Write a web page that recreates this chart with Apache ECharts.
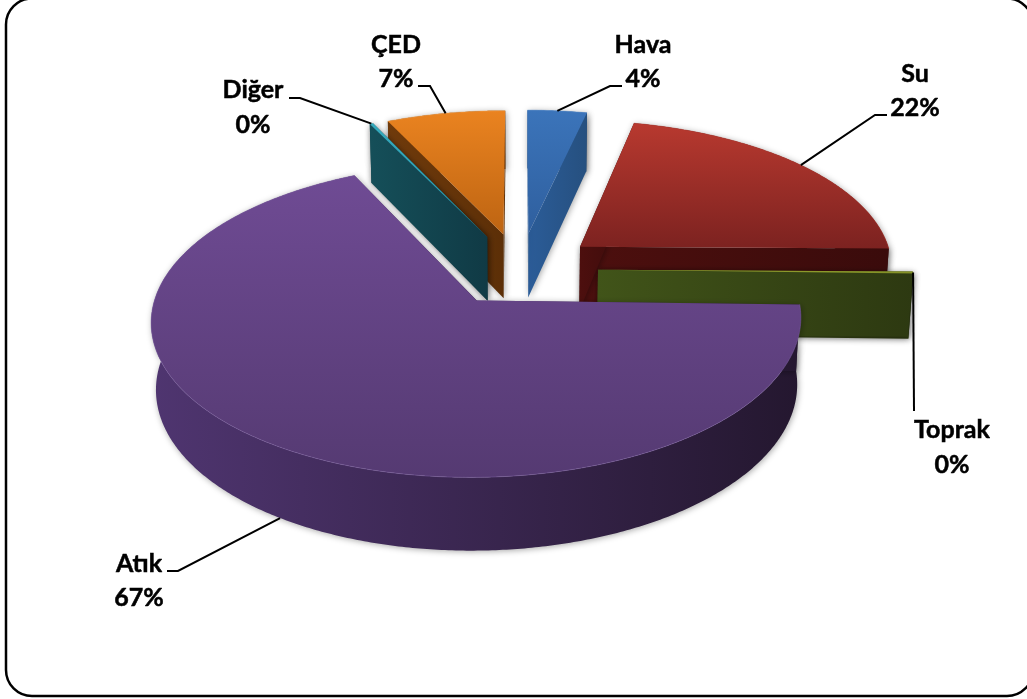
<!DOCTYPE html>
<html><head><meta charset="utf-8">
<style>html,body{margin:0;padding:0;background:#fff;overflow:hidden}#c{width:1027px;height:699px}</style>
<script src="https://cdn.jsdelivr.net/npm/echarts@6/dist/echarts.min.js"></script>
</head><body><div id="c"></div>
<script>
// Data (percent shares, clockwise from 12 o'clock)
const categories = ['Hava', 'Su', 'Toprak', 'Atık', 'Diğer', 'ÇED'];
const values = [3.5, 21.7, 0.2, 67.4, 0.2, 7.0];

// Colours: top face [upper, lower], wall [left, right]
const topColors = [['#3b74ba','#2f5f9e'],['#b8392f','#7c2220'],['#98a531','#7f8c24'],['#6f4b94','#553a72'],['#35aabd','#2a93a6'],['#ea8320','#bd6412']];
const wallColors = [['#4f3570','#24172f'],['#4d0f0e','#3a0b0b'],['#415419','#2d3911'],['#4f3570','#24172f'],['#154f59','#103a45'],['#6f3a0b','#5c2f07']];
wallColors[0] = ['#2b5c98','#26507f'];
const rimColors = ['#5f93d3','#b8392f','#b8c455','#7d60a3','#5fcbdc','#f5a95e'];

// Label layout: label centre and elbow of the leader line
const labelPos = { Hava:[643,62,622,86,610,86], Su:[915,91,887,115,875,115], Toprak:[952,447.5,914,411,914,411],
                   'Atık':[139,581,167,571,178,571], 'Diğer':[253,107.5,289,98,300,98], 'ÇED':[396,62,418,86,430,86] };

// 3D projection of the disc plane
const CX = 520, CY = 269, R = 314, EXPLODE = 78, G = 0.4677, P = 0.00039, DEPTH = 66, Q = 0.0127;
function project(X, Y, bottom) {
  const d = 1 + P * Y + (bottom ? Q : 0);
  return [CX + X / d, CY + (-G * Y + (bottom ? DEPTH : 0)) / d];
}
const total = values.reduce((a, b) => a + b, 0);
let acc = 0;
const slices = values.map((v, i) => {
  const a0 = acc / total * 2 * Math.PI; acc += v;
  const a1 = acc / total * 2 * Math.PI, mid = (a0 + a1) / 2;
  return { i, a0, a1, mid, ox: EXPLODE * Math.sin(mid), oy: EXPLODE * Math.cos(mid) };
});
function rim(s, a, bottom) { return project(s.ox + R * Math.sin(a), s.oy + R * Math.cos(a), bottom); }
function arc(s, bottom) {
  const n = Math.max(2, Math.ceil((s.a1 - s.a0) / 0.01)), pts = [];
  for (let k = 0; k <= n; k++) pts.push(rim(s, s.a0 + (s.a1 - s.a0) * k / n, bottom));
  return pts;
}
function grad(pts, stops, vertical) {
  const xs = pts.map(p => p[0]), ys = pts.map(p => p[1]);
  const c = (o, col) => ({ offset: o, color: col });
  return vertical
    ? { type:'linear', global:true, x:0, x2:0, y:Math.min(...ys), y2:Math.max(...ys), colorStops:[c(0,stops[0]),c(1,stops[1])] }
    : { type:'linear', global:true, y:0, y2:0, x:Math.min(...xs), x2:Math.max(...xs), colorStops:[c(0,stops[0]),c(1,stops[1])] };
}
const order = slices.slice().sort((a, b) => b.oy - a.oy).map(s => s.i);

function renderSlice(params, api) {
  const s = slices[api.value(0)], i = s.i, rank = order.indexOf(i) * 10;
  const apexT = project(s.ox, s.oy, false), apexB = project(s.ox, s.oy, true);
  const topArc = arc(s, false), botArc = arc(s, true);
  const shadow = { shadowColor:'rgba(0,0,0,0.35)', shadowBlur:6, shadowOffsetX:1, shadowOffsetY:1 };
  const wall = (pts, z, sh) => ({ type:'polygon', z2: rank + z, shape:{ points: pts },
    style: Object.assign({ fill: grad(pts, wallColors[i], false) }, sh ? shadow : {}) });
  const outer = topArc.concat(botArc.slice().reverse());
  const startW = [apexT, topArc[0], botArc[0], apexB];
  const endW = [apexT, topArc[topArc.length - 1], botArc[botArc.length - 1], apexB];
  const topPts = [apexT].concat(topArc);
  return { type:'group', children:[
    wall(outer, 0, true), wall(endW, 1, true), wall(startW, 2, true),
    { type:'polygon', z2: rank + 3, shape:{ points: topPts }, style:{ fill: grad(topPts, topColors[i], true) } },
    { type:'polyline', z2: rank + 4, shape:{ points: topArc },
      style:{ fill:'none', stroke: rimColors[i], lineWidth:1, opacity:0.5 } }
  ]};
}
function renderLabel(params, api) {
  const s = slices[api.value(0)], name = categories[s.i], L = labelPos[name];
  const anchor = rim(s, s.mid, name === 'Atık');
  return { type:'group', children:[
    { type:'polyline', z2:100, shape:{ points:[anchor,[L[4],L[5]],[L[2],L[3]]] },
      style:{ stroke:'#000', lineWidth:2, fill:'none' } },
    { type:'text', z2:101, style:{ text: name + '\n' + Math.round(api.value(1)) + '%', x:L[0], y:L[1],
      align:'center', verticalAlign:'middle', font:'bold 25px Lato', lineHeight:34.5, fill:'#000', stroke:'#000', lineWidth:0.5 } }
  ]};
}
const rows = slices.map(s => [s.i, values[s.i]]);
const chart = echarts.init(document.getElementById('c'), null, { renderer:'canvas' });
chart.setOption({
  animation:false,
  backgroundColor:'#fff',
  graphic:[{ type:'rect', silent:true, shape:{ x:6, y:-1.5, width:1027, height:697.5, r:26 }, style:{ fill:'none', stroke:'#000', lineWidth:2.5 } }],
  series:[
    { type:'custom', coordinateSystem:'none', silent:true, data: rows, renderItem: renderSlice, z:2 },
    { type:'custom', coordinateSystem:'none', silent:true, data: rows, renderItem: renderLabel, z:3 }
  ]
});
</script></body></html>
